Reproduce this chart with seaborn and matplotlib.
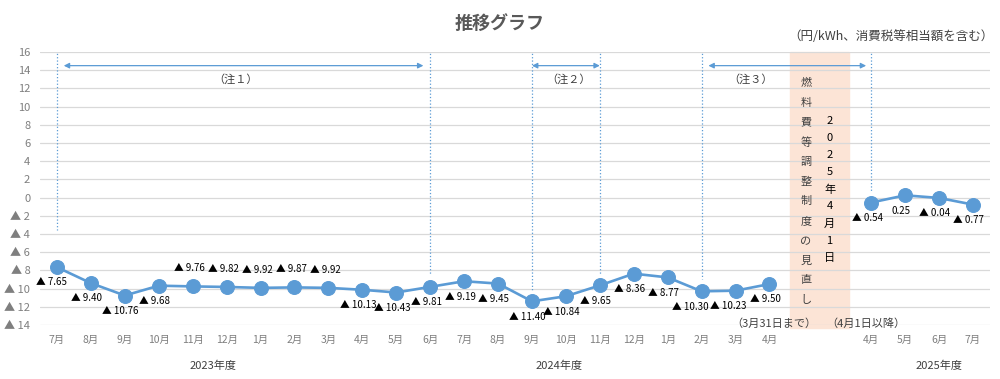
import numpy as np
import pandas as pd
import matplotlib.pyplot as plt
import matplotlib.transforms as mtransforms
import seaborn as sns

# chart data (yen/kWh, negative = discount)
months = ['7月', '8月', '9月', '10月', '11月', '12月', '1月', '2月', '3月', '4月', '5月', '6月',
          '7月', '8月', '9月', '10月', '11月', '12月', '1月', '2月', '3月', '4月',
          '', '', '4月', '5月', '6月', '7月']
values = [-7.65, -9.40, -10.76, -9.68, -9.76, -9.82, -9.92, -9.87, -9.92, -10.13, -10.43, -9.81,
          -9.19, -9.45, -11.40, -10.84, -9.65, -8.36, -8.77, -10.30, -10.23, -9.50,
          np.nan, np.nan, -0.54, 0.25, -0.04, -0.77]
segment = ['old'] * 22 + ['gap'] * 2 + ['new'] * 4
labels_above = [4, 5, 6, 7, 8]
years = ['2023年度', '2024年度', '2025年度']
year_pos = [4.6, 14.8, 26.0]
notes = ['（注１）', '（注２）', '（注３）']
note_spans = [(0.2, 10.8), (14.0, 16.0), (19.2, 23.85)]
note_lines = [0, 11, 14, 16, 19, 24]
shade_text1 = '燃料費等調整制度の見直し'
shade_text2 = '2025年4月1日'

BLUE = '#5B9BD5'
GRAY = '#7f7f7f'
DARK = '#404040'

sns.set_style('white')
plt.rcParams['font.family'] = ['Noto Sans CJK JP', 'DejaVu Sans']

df = pd.DataFrame({'x': np.arange(len(months)), 'value': values, 'segment': segment})

fig = plt.figure(figsize=(10, 3.79), dpi=100)
ax = fig.add_axes([0.04, 0.1425, 0.95, 0.7203])

# shaded "revision" band
ax.axvspan(21.6, 23.35, ymin=-0.01, ymax=1.0, color='#FCE4D6', zorder=0, clip_on=False)

for seg in ['old', 'new']:
    sub = df[df['segment'] == seg]
    sns.lineplot(data=sub, x='x', y='value', ax=ax, color=BLUE, linewidth=1.9,
                 marker='o', markersize=10, markeredgecolor=BLUE, zorder=3)

def fmt(v):
    return f'▲ {abs(v):.2f}' if v < 0 else f'{v:.2f}'

# small horizontal nudges so neighbouring labels don't collide
nudge = {0: -1, 19: -5, 20: -2}

for i, v in enumerate(values):
    if np.isnan(v):
        continue
    dx = -3 + nudge.get(i, 0)
    off = (dx + 1, 13) if i in labels_above else (dx, -11)
    ax.annotate(fmt(v), (i, v), xytext=off, textcoords='offset points',
                ha='center', va='center', fontsize=7, color='black')

# dotted reference lines
for i in note_lines:
    v = values[i]
    bottom = -3.6 if i == 0 else v + 1.3
    ax.plot([i, i], [16.2, bottom], color=BLUE, linestyle=':', linewidth=0.9, zorder=2)

# note arrows
for (a, b), t in zip(note_spans, notes):
    ax.annotate('', xy=(b, 14.5), xytext=(a, 14.5),
                arrowprops=dict(arrowstyle='<|-|>', color=BLUE, lw=0.9,
                                mutation_scale=8, shrinkA=0, shrinkB=0))
notes_x = [5.25, 15.07, 20.45]
for nx, t in zip(notes_x, notes):
    ax.text(nx, 13.0, t, ha='center', va='center', fontsize=8, color=DARK)

# vertical text in shaded band
for c, y in zip(shade_text1, np.linspace(12.6, -11.25, len(shade_text1))):
    ax.text(22.07, y, c, ha='center', va='center', fontsize=8, color=DARK)
for c, y in zip(shade_text2, np.linspace(8.4, -6.6, len(shade_text2))):
    ax.text(22.77, y, c, ha='center', va='center', fontsize=8, color='black')

ax.text(21.12, -13.8, '（3月31日まで）', ha='center', va='center', fontsize=8, color=DARK)
ax.text(23.83, -13.8, '（4月1日以降）', ha='center', va='center', fontsize=8, color=DARK)

# axes styling
ax.set_xlim(-0.5, len(months) - 0.5)
ax.set_ylim(-14, 16)
yt = np.arange(-14, 17, 2)
ax.set_yticks(yt)
ax.set_yticklabels([f'▲ {abs(t)}' if t < 0 else str(t) for t in yt], fontsize=8, color=GRAY)
ax.set_xticks(np.arange(len(months)))
ax.set_xticklabels(months, fontsize=7.5, color=GRAY)
ax.tick_params(axis='both', length=0)
ax.tick_params(axis='x', pad=7)
ax.tick_params(axis='y', pad=7)
ax.grid(axis='y', color='#d9d9d9', linewidth=0.9)
ax.set_axisbelow(True)
for s in ax.spines.values():
    s.set_visible(False)
ax.set_xlabel('')
ax.set_ylabel('')

trans = mtransforms.blended_transform_factory(ax.transData, ax.transAxes)
for yx, yl in zip(year_pos, years):
    ax.text(yx, -0.15, yl, transform=trans, ha='center', va='center', fontsize=8, color=DARK)

fig.text(0.5, 0.939, '推移グラフ', ha='center', va='center', fontsize=13,
         fontweight='bold', color='#595959')
fig.text(0.994, 0.905, '（円/kWh、消費税等相当額を含む）', ha='right', va='center',
         fontsize=9, color=DARK)

fig.savefig('out.png', dpi=100)
